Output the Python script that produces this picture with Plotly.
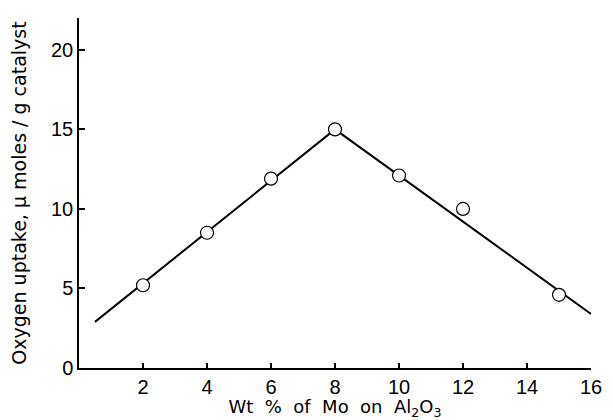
import plotly.graph_objects as go

# measured points
mo_wt = [2, 4, 6, 8, 10, 12, 15]
o2_uptake = [5.2, 8.5, 11.9, 15.0, 12.1, 10.0, 4.6]

# fitted line (drawn through)
line_x = [0.5, 8, 16]
line_y = [2.9, 15.0, 3.4]

x_ticks = [2, 4, 6, 8, 10, 12, 14, 16]
y_ticks = [0, 5, 10, 15, 20]

tick_font = "Liberation Sans, Arial, sans-serif"
title_font = "DejaVu Sans, sans-serif"

fig = go.Figure()
fig.add_trace(go.Scatter(x=line_x, y=line_y, mode="lines",
                         line=dict(color="black", width=2), showlegend=False))
fig.add_trace(go.Scatter(x=mo_wt, y=o2_uptake, mode="markers",
                         marker=dict(symbol="circle", size=13, color="white",
                                     line=dict(color="black", width=1.2)),
                         showlegend=False, cliponaxis=False))

# page body has an 8px default margin -> compensate in size and margins
fig.update_layout(
    width=605, height=412,
    margin=dict(l=71, r=22, t=10, b=52, autoexpand=False),
    paper_bgcolor="white", plot_bgcolor="white",
    font=dict(family=tick_font, size=17, color="black"),
    xaxis=dict(range=[0, 16], tickvals=x_ticks, ticktext=[str(v) for v in x_ticks],
               ticks="inside", ticklen=5, tickwidth=1.5, tickcolor="black",
               showline=True, linecolor="black", linewidth=1.5,
               showgrid=False, zeroline=False, automargin=False,
               tickfont=dict(size=20, family=tick_font),
               title=dict(text="Wt\u00a0 %\u00a0 of\u00a0 Mo\u00a0 on\u00a0 Al<sub>2</sub>O<sub>3</sub>",
                          standoff=1, font=dict(size=18, family=title_font))),
    yaxis=dict(range=[0, 22], tickvals=y_ticks, ticktext=[str(v) for v in y_ticks],
               ticks="inside", ticklen=6, tickwidth=1.5, tickcolor="black",
               showline=True, linecolor="black", linewidth=1.5,
               showgrid=False, zeroline=False, automargin=False,
               tickfont=dict(size=20, family=tick_font),
               title=dict(text="Oxygen uptake, μ moles / g catalyst", standoff=20,
                          font=dict(size=19, family=title_font))),
)

fig.write_html("out.html")
